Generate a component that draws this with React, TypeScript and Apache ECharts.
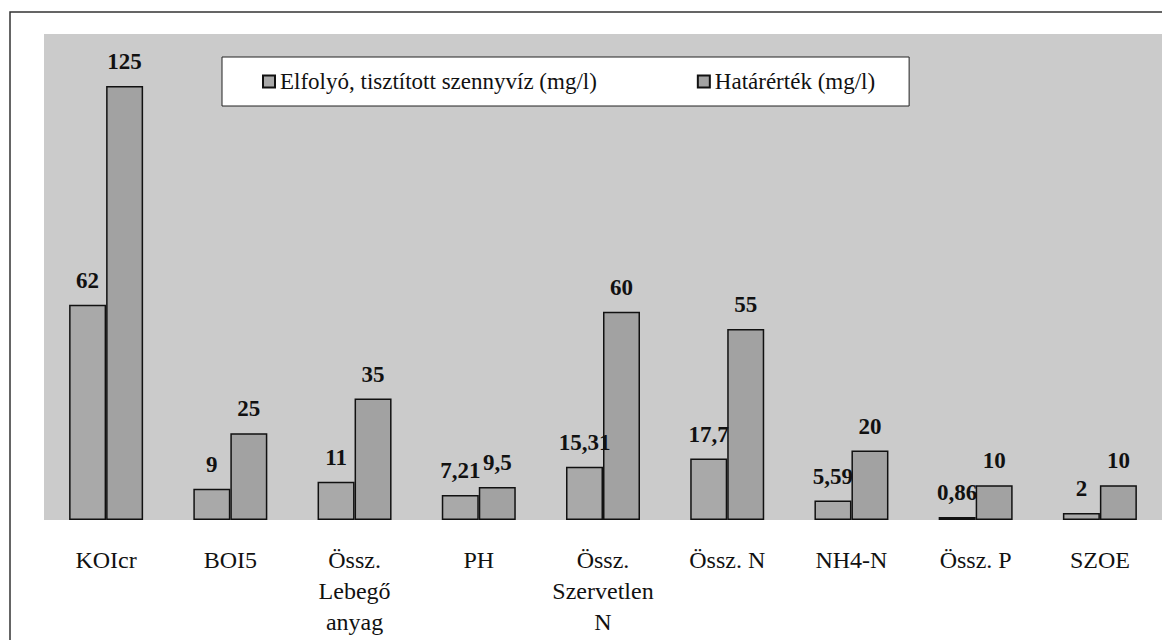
import React, { useEffect, useRef } from "react";
import * as echarts from "echarts";

const categories = [
  "KOIcr",
  "BOI5",
  "Össz.\nLebegő\nanyag",
  "PH",
  "Össz.\nSzervetlen\nN",
  "Össz. N",
  "NH4-N",
  "Össz. P",
  "SZOE",
];
const seriesNames = ["Elfolyó, tisztított szennyvíz (mg/l)", "Határérték (mg/l)"];
const effluent = [62, 9, 11, 7.21, 15.31, 17.7, 5.59, 0.86, 2];
const limitValues = [125, 25, 35, 9.5, 60, 55, 20, 10, 10];

const SERIF = "Times New Roman";

export default function App() {
  const ref = useRef<HTMLDivElement>(null);
  useEffect(() => {
    if (!ref.current) return;
    const chart = echarts.init(ref.current, undefined, { renderer: "svg" });
    const label = {
      show: true,
      position: "top",
      distance: 13,
      color: "#111",
      fontFamily: SERIF,
      fontWeight: "bold",
      fontSize: 23,
      formatter: (p: any) => String(p.value).replace(".", ","),
    };
    chart.setOption({
      animation: false,
      backgroundColor: "#ffffff",
      graphic: [
        {
          type: "rect",
          shape: { x: 10, y: 12, width: 1200, height: 700 },
          style: { fill: "none", stroke: "#333", lineWidth: 1.5 },
          z: 100,
        },
      ],
      legend: {
        left: 222,
        top: 57,
        data: seriesNames,
        backgroundColor: "#ffffff",
        borderColor: "#222",
        borderWidth: 1,
        padding: [13, 34, 13, 40],
        itemGap: 100,
        itemWidth: 12,
        itemHeight: 12,
        icon: "rect",
        textStyle: { fontFamily: SERIF, fontSize: 23, color: "#111" },
      },
      grid: {
        left: 44,
        top: 34,
        width: 1130,
        height: 486,
        show: true,
        backgroundColor: "#cbcbcb",
        borderWidth: 0,
      },
      xAxis: {
        type: "category",
        data: categories,
        axisLine: { show: false },
        axisTick: { show: false },
        axisLabel: {
          margin: 24,
          interval: 0,
          fontFamily: SERIF,
          fontSize: 24,
          lineHeight: 31,
          color: "#111",
        },
      },
      yAxis: {
        type: "value",
        min: 0,
        max: 140,
        show: false,
        splitLine: { show: false },
      },
      series: [
        {
          name: seriesNames[0],
          type: "bar",
          data: effluent,
          barWidth: 37,
          barGap: "0%",
          itemStyle: { color: "#a9a9a9", borderColor: "#111", borderWidth: 1.5 },
          label,
        },
        {
          name: seriesNames[1],
          type: "bar",
          data: limitValues,
          barWidth: 37,
          barGap: "0%",
          itemStyle: { color: "#a2a2a2", borderColor: "#111", borderWidth: 1.5 },
          label,
        },
      ],
    });
    return () => chart.dispose();
  }, []);
  return (
    <div
      ref={ref}
      style={{ position: "fixed", left: 0, top: 0, width: 1162, height: 640 }}
    />
  );
}
